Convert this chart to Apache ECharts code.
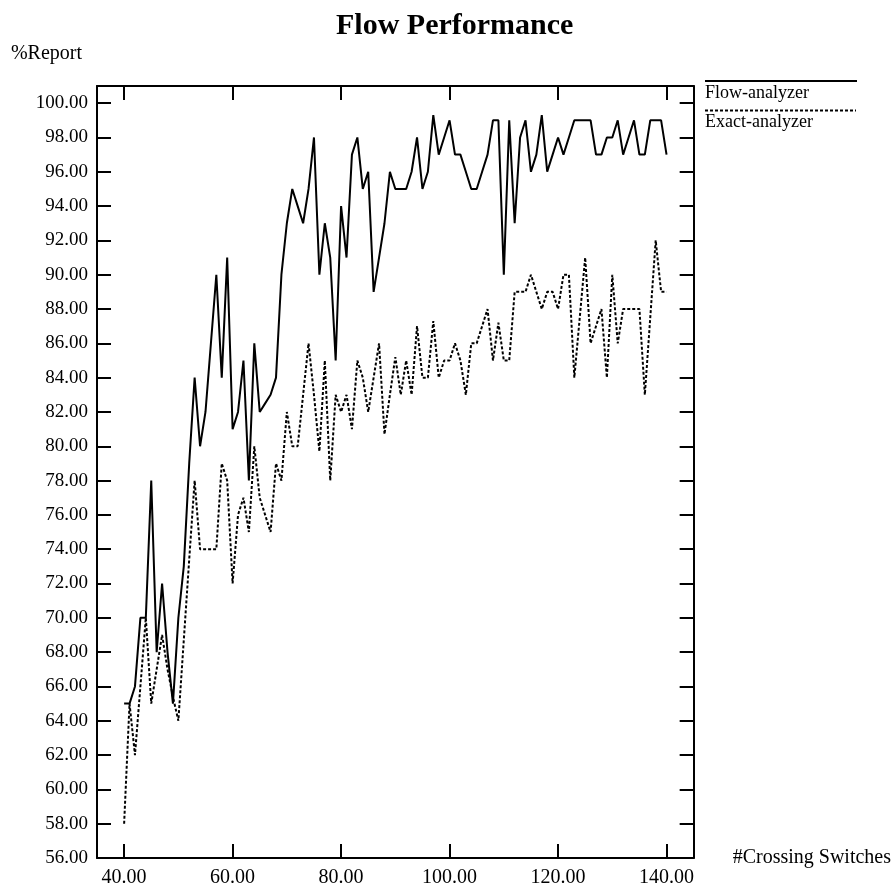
<!DOCTYPE html>
<html>
<head>
<meta charset="utf-8">
<script src="https://cdn.jsdelivr.net/npm/echarts@6/dist/echarts.min.js"></script>
<style>
html,body{margin:0;padding:0;background:#fff;}
#chart{width:894px;height:888px;}
</style>
</head>
<body>
<div id="chart"></div>
<script>
const xValues = [40,41,42,43,44,45,46,47,48,49,50,51,52,53,54,55,56,57,58,59,60,61,62,63,64,65,66,67,68,69,70,71,72,73,74,75,76,77,78,79,80,81,82,83,84,85,86,87,88,89,90,91,92,93,94,95,96,97,98,99,100,101,102,103,104,105,106,107,108,109,110,111,112,113,114,115,116,117,118,119,120,121,122,123,124,125,126,127,128,129,130,131,132,133,134,135,136,137,138,139,140];
const flowAnalyzer = [65,65,66,70,70,78,68,72,68,65,70,73,79,84,80,82,86,90,84,91,81,82,85,78,86,82,82.5,83,84,90,93,95,94,93,95,98,90,93,91,85,94,91,97,98,95,96,89,91,93,96,95,95,95,96,98,95,96,99.3,97,98,99,97,97,96,95,95,96,97,99,99,90,99,93,98,99,96,97,99.3,96,97,98,97,98,99,99,99,99,97,97,98,98,99,97,98,99,97,97,99,99,99,97];
const exactAnalyzer = [58,65,62,66,70,65,67,69,67,65.4,64,68.7,73.4,78,74,74,74,74,79,78,72,76,77,75,80,77,76,75,79,78,82,80,80,83,86,83,79.7,85,78,83,82,83,81,85,84,82,84,86,80.7,83,85.2,83,85,83,87,84,84,87.3,84,85,85,86,85,83,86,86,87,88,85,87.2,85,85,89,89,89,90,89,88,89,89,88,90,90,84,87.5,91,86,87,88,84,90,86,88,88,88,88,83,87.5,92,89,89];
const xTickValues = [40,60,80,100,120,140];
const yTickValues = [56,58,60,62,64,66,68,70,72,74,76,78,80,82,84,86,88,90,92,94,96,98,100];
const seriesNames = ['Flow-analyzer','Exact-analyzer'];

const FONT = 'Liberation Serif';
const pairs = (ys) => xValues.map((x, i) => [x, ys[i]]);

const chart = echarts.init(document.getElementById('chart'), null, {renderer: 'canvas'});
const baseAxisLine = {show: true, lineStyle: {color: '#000', width: 2}};
const option = {
  animation: false,
  backgroundColor: '#fff',
  title: {
    text: 'Flow Performance',
    left: 331,
    top: 6,
    textStyle: {fontFamily: FONT, fontWeight: 'bold', fontSize: 30, color: '#000'}
  },
  grid: {left: 97, top: 86, right: 200, bottom: 28, containLabel: false},
  xAxis: [{
    type: 'value', min: 35, max: 145, position: 'bottom',
    name: '#Crossing Switches', nameLocation: 'end', nameGap: 39,
    nameTextStyle: {fontFamily: FONT, fontSize: 20, color: '#000', verticalAlign: 'middle'},
    axisLine: baseAxisLine,
    axisTick: {show: true, inside: true, length: 14, customValues: xTickValues, lineStyle: {color: '#000', width: 2}},
    axisLabel: {show: true, customValues: xTickValues, margin: 10, fontFamily: FONT, fontSize: 20, color: '#000',
      formatter: v => v.toFixed(2)},
    splitLine: {show: false}
  }, {
    type: 'value', min: 35, max: 145, position: 'top',
    axisLine: baseAxisLine,
    axisTick: {show: true, inside: true, length: 14, customValues: xTickValues, lineStyle: {color: '#000', width: 2}},
    axisLabel: {show: false},
    splitLine: {show: false}
  }],
  yAxis: [{
    type: 'value', min: 56, max: 101, position: 'left',
    name: '%Report', nameLocation: 'end', nameGap: 22,
    nameTextStyle: {fontFamily: FONT, fontSize: 20, color: '#000', align: 'right', padding: [0, 15, 0, 0]},
    axisLine: baseAxisLine,
    axisTick: {show: true, inside: true, length: 14, customValues: yTickValues, lineStyle: {color: '#000', width: 2}},
    axisLabel: {show: true, customValues: yTickValues, margin: 9, fontFamily: FONT, fontSize: 19, color: '#000',
      formatter: v => v.toFixed(2)},
    splitLine: {show: false}
  }, {
    type: 'value', min: 56, max: 101, position: 'right',
    axisLine: baseAxisLine,
    axisTick: {show: true, inside: true, length: 14, customValues: yTickValues, lineStyle: {color: '#000', width: 2}},
    axisLabel: {show: false},
    splitLine: {show: false}
  }],
  series: [{
    name: seriesNames[0], type: 'line', xAxisIndex: 0, yAxisIndex: 0,
    data: pairs(flowAnalyzer), symbol: 'none',
    lineStyle: {color: '#000', width: 2, type: 'solid'}
  }, {
    name: seriesNames[1], type: 'line', xAxisIndex: 0, yAxisIndex: 0,
    data: pairs(exactAnalyzer), symbol: 'none',
    lineStyle: {color: '#000', width: 2, type: [3, 2]}
  }],
  graphic: [
    {type: 'line', shape: {x1: 705, y1: 81, x2: 857, y2: 81}, style: {stroke: '#000', lineWidth: 2}},
    {type: 'text', left: 705, top: 84, style: {text: seriesNames[0], font: '18px "Liberation Serif"', fill: '#000'}},
    {type: 'line', shape: {x1: 705, y1: 110.5, x2: 856, y2: 110.5}, style: {stroke: '#000', lineWidth: 2, lineDash: [3, 2]}},
    {type: 'text', left: 705, top: 113, style: {text: seriesNames[1], font: '18px "Liberation Serif"', fill: '#000'}}
  ]
};
chart.setOption(option);
</script>
</body>
</html>
